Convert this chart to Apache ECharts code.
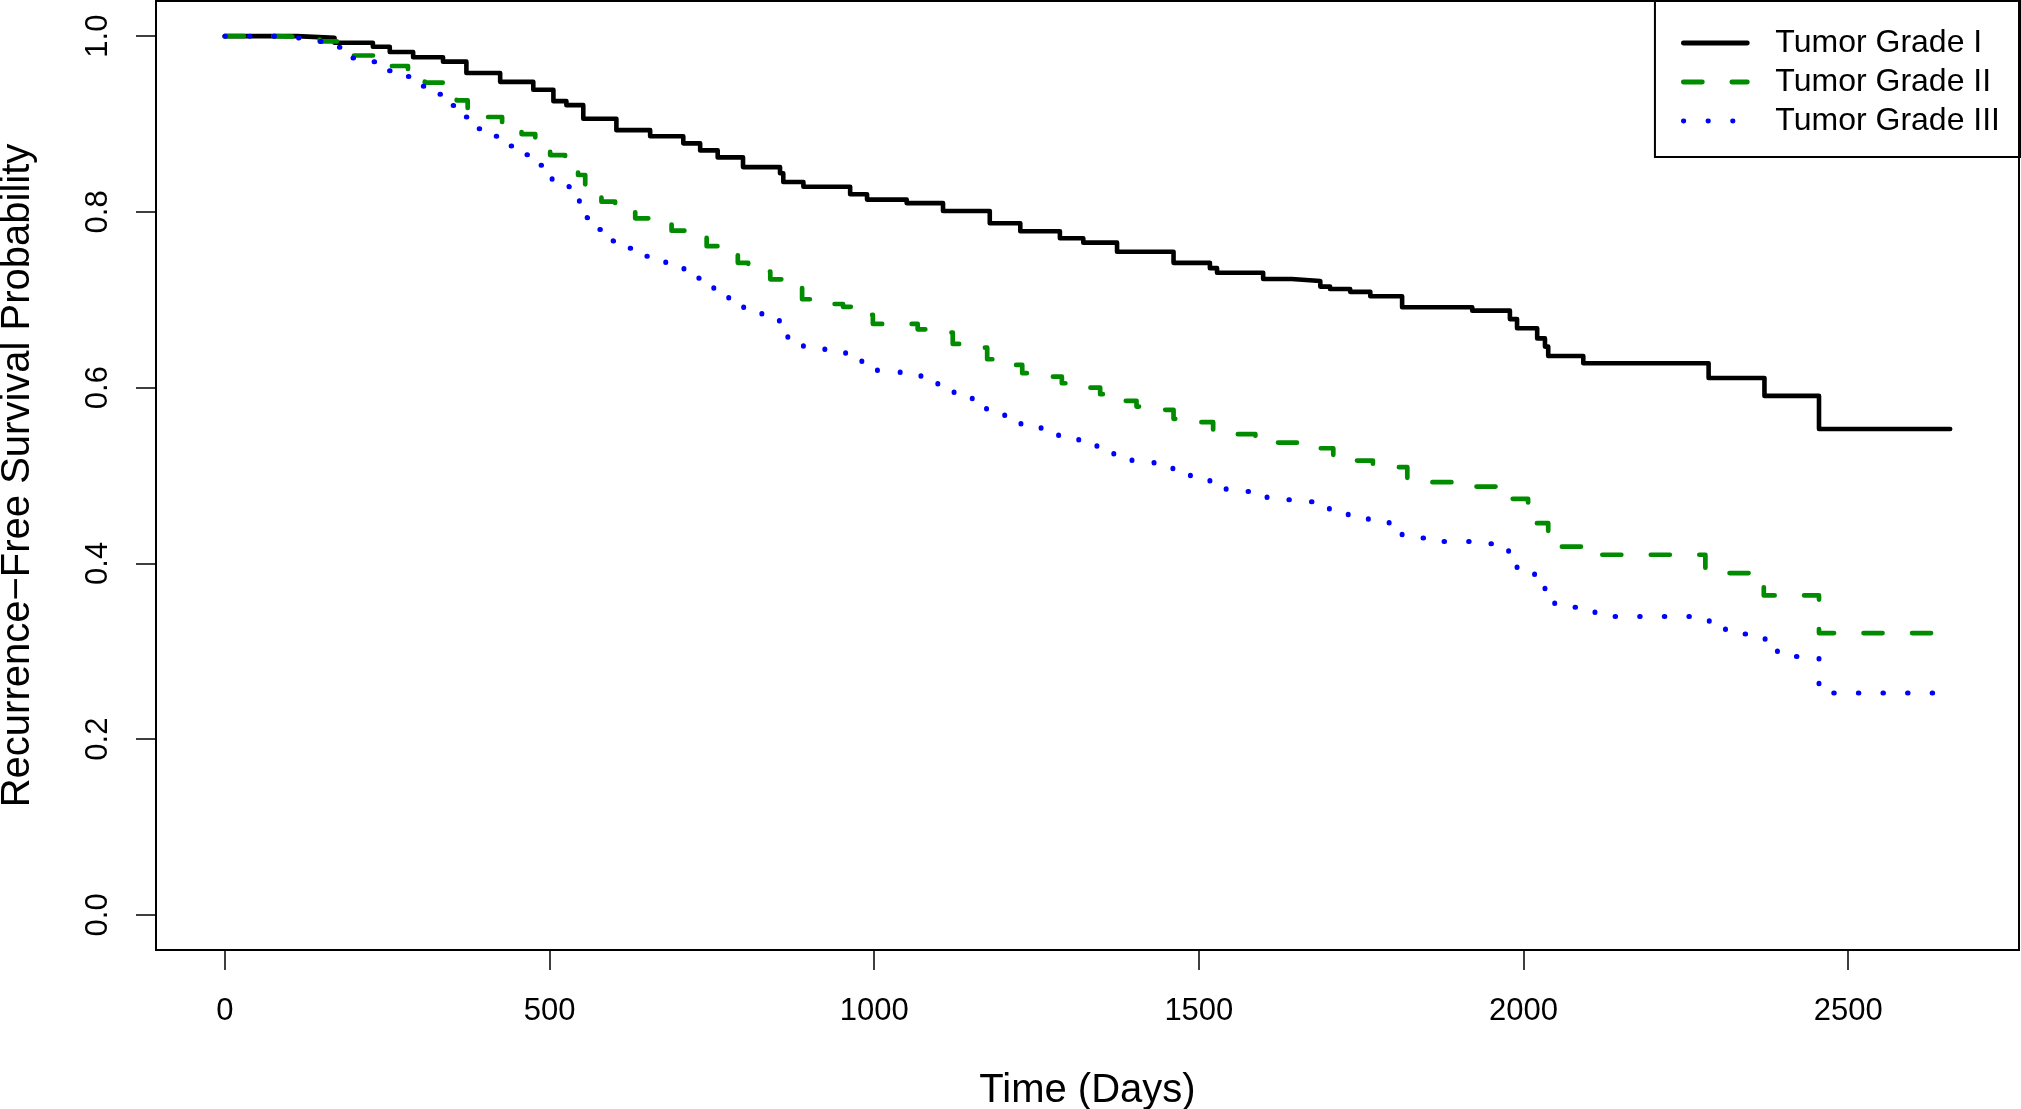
<!DOCTYPE html>
<html>
<head>
<meta charset="utf-8">
<script src="https://cdn.jsdelivr.net/npm/echarts@6/dist/echarts.min.js"></script>
<style>
html,body{margin:0;padding:0;background:#fff;}
#chart{width:2021px;height:1109px;}
</style>
</head>
<body>
<div id="chart"></div>
<script>
// ---- Data ----
const seriesNames = ['Tumor Grade I', 'Tumor Grade II', 'Tumor Grade III'];

const gradeITime = [0,111,169,228,254,290,336,372,424,475,506,526,552,603,655,706,732,759,798,855,860,891,963,989,1050,1106,1178,1225,1286,1322,1374,1461,1517,1528,1599,1643,1687,1702,1733,1764,1813,1921,1979,1990,2021,2033,2038,2092,2285,2371,2455,2657];
const gradeISurv = [1.0,0.998,0.9925,0.988,0.982,0.976,0.971,0.958,0.948,0.939,0.926,0.9215,0.906,0.893,0.886,0.878,0.870,0.862,0.851,0.844,0.834,0.8286,0.820,0.814,0.810,0.801,0.787,0.778,0.770,0.765,0.7547,0.742,0.736,0.7308,0.7236,0.7214,0.715,0.7123,0.709,0.704,0.6915,0.6876,0.678,0.6676,0.656,0.6467,0.636,0.6278,0.611,0.5906,0.553,0.553];

const gradeIITime = [0,74,146,172,197,257,282,308,336,357,374,405,427,457,478,501,524,544,555,580,601,632,655,688,713,742,759,790,806,840,860,889,912,952,967,998,1067,1094,1121,1148,1174,1197,1228,1255,1289,1312,1348,1368,1404,1432,1461,1489,1522,1530,1587,1610,1651,1679,1707,1736,1768,1821,1921,1979,2007,2018,2038,2059,2090,2280,2370,2455,2657];
const gradeIISurv = [1.0,0.9985,0.994,0.992,0.978,0.966,0.961,0.947,0.945,0.927,0.918,0.908,0.901,0.8886,0.8817,0.8647,0.858,0.842,0.8268,0.8116,0.803,0.7927,0.786,0.7786,0.7745,0.761,0.753,0.742,0.732,0.7233,0.715,0.7006,0.6952,0.692,0.6827,0.6725,0.6664,0.6626,0.6497,0.6455,0.6323,0.6258,0.6164,0.6125,0.605,0.600,0.5925,0.585,0.5784,0.5747,0.5645,0.5607,0.552,0.547,0.5425,0.5375,0.535,0.531,0.5216,0.517,0.5095,0.4924,0.4874,0.4734,0.461,0.4458,0.4268,0.419,0.4098,0.389,0.3635,0.3207,0.3207];

const gradeIIITime = [0,74,111,143,174,195,228,251,280,303,330,350,370,390,417,439,464,487,504,530,546,558,577,598,624,650,679,707,730,753,776,799,827,854,867,891,924,956,981,1005,1040,1072,1098,1123,1151,1173,1201,1226,1257,1284,1315,1343,1369,1397,1431,1460,1487,1517,1542,1605,1640,1675,1701,1730,1761,1793,1813,1846,1918,1951,1977,1990,2017,2033,2048,2110,2286,2311,2372,2391,2455,2657];
const gradeIIISurv = [1.0,0.998,0.997,0.994,0.9875,0.975,0.971,0.9606,0.954,0.943,0.934,0.921,0.908,0.8946,0.886,0.875,0.865,0.853,0.837,0.8286,0.812,0.7934,0.780,0.767,0.7585,0.7494,0.742,0.735,0.7244,0.713,0.702,0.691,0.6835,0.6755,0.657,0.6467,0.643,0.638,0.629,0.6187,0.6164,0.612,0.603,0.5936,0.586,0.5747,0.567,0.5568,0.5516,0.544,0.539,0.531,0.5227,0.5147,0.5113,0.505,0.497,0.4913,0.4818,0.4723,0.470,0.4674,0.4583,0.4518,0.4469,0.4427,0.429,0.4249,0.4223,0.4185,0.4098,0.391,0.383,0.367,0.350,0.3396,0.3287,0.3196,0.3082,0.294,0.2525,0.2525];

const xTickValues = [0, 500, 1000, 1500, 2000, 2500];
const yTickValues = [0.0, 0.2, 0.4, 0.6, 0.8, 1.0];
const xAxisTitle = 'Time (Days)';
const yAxisTitle = 'Recurrence\u2212Free Survival Probability';

// ---- Build chart ----
function zip(t, s) { return t.map((v, i) => [v, s[i]]); }
const FONT = 'Liberation Sans, Arial, Helvetica, sans-serif';

const chart = echarts.init(document.getElementById('chart'), null, {renderer: 'canvas'});
chart.setOption({
  animation: false,
  backgroundColor: '#fff',
  grid: {
    left: 156, right: 2, top: 1, bottom: 159,
    outerBoundsMode: 'none', containLabel: false,
    show: true, borderColor: '#000', borderWidth: 2, backgroundColor: 'transparent'
  },
  xAxis: {
    type: 'value', min: -106, max: 2763,
    name: xAxisTitle, nameLocation: 'middle', nameGap: 121,
    nameTextStyle: {fontFamily: FONT, fontSize: 40, color: '#000'},
    axisLine: {show: false, onZero: false},
    splitLine: {show: false},
    axisTick: {show: true, customValues: xTickValues, length: 20, lineStyle: {color: '#000', width: 1.5}},
    axisLabel: {customValues: xTickValues, margin: 46, fontFamily: FONT, fontSize: 31, color: '#000',
      formatter: v => String(v)}
  },
  yAxis: {
    type: 'value', min: -0.04, max: 1.04,
    name: yAxisTitle, nameLocation: 'middle', nameGap: 118, nameRotate: 90,
    nameTextStyle: {fontFamily: FONT, fontSize: 40, color: '#000'},
    axisLine: {show: false, onZero: false},
    splitLine: {show: false},
    axisTick: {show: true, customValues: yTickValues, length: 20, lineStyle: {color: '#000', width: 1.5}},
    axisLabel: {customValues: yTickValues, rotate: 90, margin: 42, fontFamily: FONT, fontSize: 31, color: '#000',
      formatter: v => Number(v).toFixed(1)}
  },
  legend: {
    data: seriesNames,
    orient: 'vertical', right: 1, top: 1,
    padding: [26, 20, 20, 26],
    itemWidth: 64, itemHeight: 14, itemGap: 7,
    borderColor: '#000', borderWidth: 2, borderRadius: 0,
    selectedMode: false,
    textStyle: {fontFamily: FONT, fontSize: 32, color: '#000', padding: [0, 0, 0, 23]},
    itemStyle: {opacity: 0},
    lineStyle: {width: 4.8, cap: 'round'}
  },
  series: [
    {
      name: seriesNames[0], type: 'line', step: 'end', symbol: 'none',
      data: zip(gradeITime, gradeISurv),
      lineStyle: {color: '#000000', width: 4.6, type: 'solid', cap: 'round', join: 'round'},
      itemStyle: {color: '#000000'}
    },
    {
      name: seriesNames[1], type: 'line', step: 'end', symbol: 'none',
      data: zip(gradeIITime, gradeIISurv),
      lineStyle: {color: '#008B00', width: 4.7, type: [19, 29.5], cap: 'round', join: 'round'},
      itemStyle: {color: '#008B00'}
    },
    {
      name: seriesNames[2], type: 'line', step: 'end', symbol: 'none',
      data: zip(gradeIIITime, gradeIIISurv),
      lineStyle: {color: '#0000FF', width: 5, type: [0.5, 24.1], cap: 'round', join: 'round'},
      itemStyle: {color: '#0000FF'}
    }
  ]
});
</script>
</body>
</html>
